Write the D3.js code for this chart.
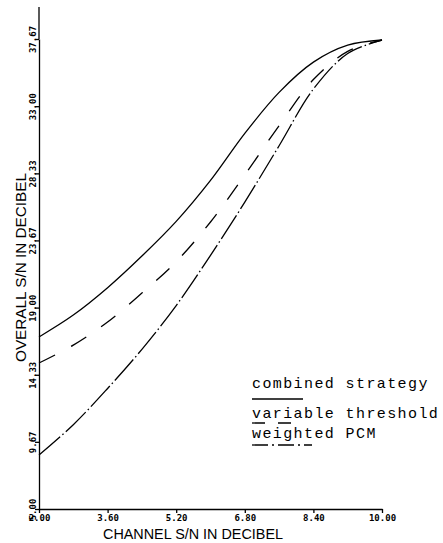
<!DOCTYPE html>
<html>
<head>
<meta charset="utf-8">
<script src="https://cdn.jsdelivr.net/npm/d3@7"></script>
<style>
  body { margin: 0; background: #fff; }
  svg { display: block; }
  .axis path, .axis line { stroke: #000; stroke-width: 1.3px; }
  .axis text { font-family: "DejaVu Sans Mono", monospace; font-weight: bold; font-size: 9px; fill: #000; }
  .title { font-family: "Liberation Sans", sans-serif; font-size: 14px; fill: #000; }
  .legend { font-family: "Liberation Mono", monospace; font-size: 15px; letter-spacing: 1.4px; fill: #000; }
</style>
</head>
<body>
<div id="vis"></div>
<script>
const width = 443;
const height = 543;

// channel S/N (x)
const channelSN = [2.0, 2.8, 3.6, 4.4, 5.2, 6.0, 6.8, 7.6, 8.4, 9.2, 10.0];
// overall S/N for each strategy
const combinedStrategy = [16.96, 18.48, 20.38, 22.58, 24.99, 27.84, 31.11, 33.96, 36.06, 37.24, 37.6];
const variableThreshold = [15.15, 16.39, 18.0, 20.01, 22.19, 24.95, 28.22, 31.65, 34.85, 36.81, 37.6];
const weightedPCM = [8.75, 10.86, 13.38, 16.1, 19.14, 22.63, 26.33, 30.25, 34.19, 36.66, 37.6];

const xTicks = [2.0, 3.6, 5.2, 6.8, 8.4, 10.0];
const yTicks = [5.0, 9.67, 14.33, 19.0, 23.67, 28.33, 33.0, 37.67];
const seriesNames = ["combined strategy", "variable threshold", "weighted PCM"];
const seriesDash = ["none", "18,18", "28,3,1.5,3"];

const svg = d3.select('#vis')
    .append('svg')
    .attr('width', width)
    .attr('height', height);

let xScale = d3.scaleLinear()
    .domain([2, 10])
    .range([39, 382]);
let yScale = d3.scaleLinear()
    .domain([5, 37.67])
    .range([509, 39]);

// x axis
let xAxis = svg.append("g")
    .attr("class", "axis")
    .attr("transform", `translate(0,${yScale(5)})`)
    .call(d3.axisBottom(xScale).tickValues(xTicks).tickFormat(d3.format(".2f")).tickSize(4).tickSizeOuter(0).tickPadding(2));

// y axis, labels turned sideways
let yAxis = svg.append("g")
    .attr("class", "axis")
    .attr("transform", `translate(${xScale(2)},0)`)
    .call(d3.axisLeft(yScale).tickValues(yTicks).tickFormat(d3.format(".2f")).tickSize(4).tickSizeOuter(0));

yAxis.selectAll("text")
    .attr("transform", "rotate(-90)")
    .attr("x", 0)
    .attr("y", -3)
    .attr("dy", 0)
    .attr("text-anchor", "middle");

// axis line runs on above the top tick
svg.append("line")
    .attr("x1", xScale(2)).attr("x2", xScale(2))
    .attr("y1", yScale(37.67)).attr("y2", 7)
    .attr("stroke", "#000")
    .attr("stroke-width", 1.3);

svg.append("text")
    .attr("class", "title")
    .attr("x", 103)
    .attr("y", 539)
    .attr("textLength", 180)
    .attr("lengthAdjust", "spacingAndGlyphs")
    .text("CHANNEL S/N IN DECIBEL");

svg.append("text")
    .attr("class", "title")
    .attr("transform", "translate(26,362) rotate(-90)")
    .attr("x", 0)
    .attr("y", 0)
    .attr("textLength", 189)
    .attr("lengthAdjust", "spacingAndGlyphs")
    .text("OVERALL S/N IN DECIBEL");

// curves
const allSeries = [combinedStrategy, variableThreshold, weightedPCM];
const line = d3.line()
    .x((d, i) => xScale(channelSN[i]))
    .y(d => yScale(d))
    .curve(d3.curveCatmullRom.alpha(0.5));

svg.selectAll('.curve')
    .data(allSeries)
    .join('path')
    .attr('class', 'curve')
    .attr('d', line)
    .attr('fill', 'none')
    .attr('stroke', '#000')
    .attr('stroke-width', 1.3)
    .attr('stroke-dasharray', (d, i) => seriesDash[i]);

// legend: names with a sample of the line underneath
const legendY = [388, 418, 438];
const underY = [399, 423, 445];
const underLen = [51, 42, 60];
const legendDash = ["none", "13,13", "16,4,2,4"];

svg.selectAll('.legend')
    .data(seriesNames)
    .join('text')
    .attr('class', 'legend')
    .attr('x', 252)
    .attr('y', (d, i) => legendY[i])
    .text(d => d);

svg.selectAll('.legendLine')
    .data(seriesNames)
    .join('line')
    .attr('class', 'legendLine')
    .attr('x1', 252)
    .attr('x2', (d, i) => 252 + underLen[i])
    .attr('y1', (d, i) => underY[i])
    .attr('y2', (d, i) => underY[i])
    .attr('stroke', '#000')
    .attr('stroke-width', 1.3)
    .attr('stroke-dasharray', (d, i) => legendDash[i]);
</script>
</body>
</html>
